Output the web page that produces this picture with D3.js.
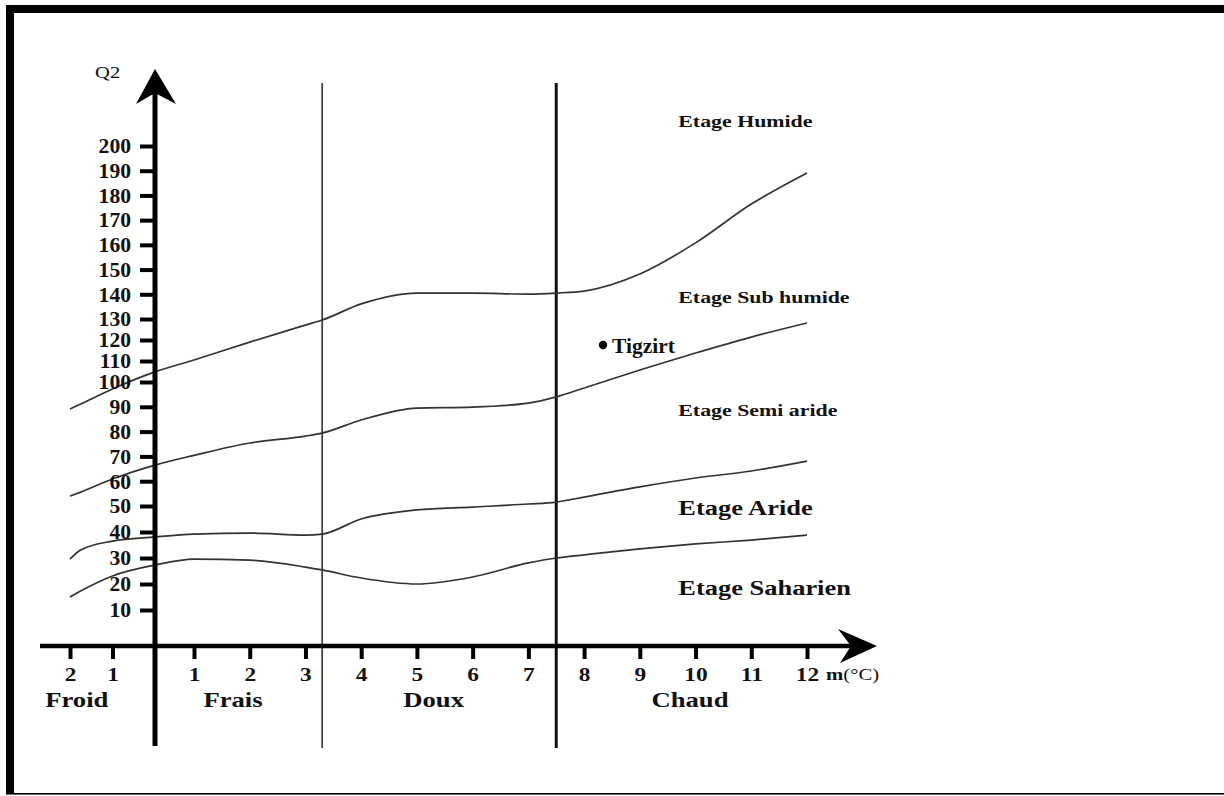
<!DOCTYPE html>
<html>
<head>
<meta charset="utf-8">
<script src="https://cdn.jsdelivr.net/npm/d3@7"></script>
<style>
  html, body { margin: 0; padding: 0; background: #fff; }
  svg { display: block; }
  text { font-family: "Liberation Serif", "Times New Roman", serif; fill: #111; }
</style>
</head>
<body>
<svg id="chart" width="1224" height="796"></svg>
<script>
// ---------------- DATA ----------------
const xTickValues = [-2, -1, 1, 2, 3, 4, 5, 6, 7, 8, 9, 10, 11, 12];
const xTickLabels = ["2", "1", "1", "2", "3", "4", "5", "6", "7", "8", "9", "10", "11", "12"];
const yTickValues = [10, 20, 30, 40, 50, 60, 70, 80, 90, 100, 110, 120, 130, 140, 150, 160, 170, 180, 190, 200];

// winter classes (m boundaries)
const zoneBounds = [3.3, 7.5];
const zoneNames = ["Froid", "Frais", "Doux", "Chaud"];
const zoneLabelM = [-1.84, 1.7, 5.3, 9.9];

// boundary curves of the bioclimatic stages (Q2 as a function of m)
const mPoints = [-2, -1.75, -1, 0, 1, 2, 3, 3.3, 4, 5, 6, 7, 7.5, 8, 9, 10, 11, 12];
const limHumide   = [89.1, 91.1, 97.2, 104.8, 110.5, 119, 127.1, 129.5, 136.1, 140.5, 140.5, 140.1, 140.5, 141.3, 148.2, 160.8, 176.5, 189.1];
const limSubHumide = [54, 55.6, 60.9, 66.5, 70.4, 75.4, 78.2, 79.4, 84.7, 89.5, 89.9, 91.5, 94, 97.6, 105.7, 113.8, 121.4, 128.1];
const limSemiAride = [29.6, 33.1, 36.5, 38.1, 39.2, 39.6, 38.8, 39.2, 45, 48.5, 49.6, 50.8, 51.6, 53.6, 57.7, 61.3, 64.1, 68.1];
const limAride     = [15, 17.3, 23.1, 27.3, 29.6, 29.2, 26.5, 25.4, 22.3, 20, 22.7, 28.1, 30, 31.2, 33.5, 35.4, 36.9, 38.8];

// stage labels
const stageNames = ["Etage Humide", "Etage Sub humide", "Etage Semi aride", "Etage Aride", "Etage Saharien"];
const stageQ2 = [207.7, 136.5, 86.3, 46.5, 15.8];
const stageM = 9.69;

// station
const station = { name: "Tigzirt", m: 8.34, q2: 117.6 };

// ---------------- CHART ----------------
const svg = d3.select("#chart");

// frame
svg.append("rect").attr("x", 6).attr("y", 5).attr("width", 1218).attr("height", 8).attr("fill", "#000");
svg.append("rect").attr("x", 6).attr("y", 5).attr("width", 8).attr("height", 789).attr("fill", "#000");
svg.append("rect").attr("x", 6).attr("y", 793).attr("width", 1218).attr("height", 1.6).attr("fill", "#000");

const x = d3.scaleLinear().domain([-2, 0, 1, 12]).range([70, 155, 194, 807]);
const y = d3.scaleLinear().domain([10, 50, 100, 130, 200]).range([610, 506, 382, 319, 146]);

const axisY0 = 646; // pixel of the m axis
const axisX0 = x(0);

// zone separators
svg.selectAll("line.zone").data(zoneBounds).enter().append("line")
  .attr("class", "zone")
  .attr("x1", d => x(d)).attr("x2", d => x(d))
  .attr("y1", 83).attr("y2", 748)
  .attr("stroke", (d, i) => i === 0 ? "#444" : "#111")
  .attr("stroke-width", (d, i) => i === 0 ? 1.8 : 3);

// curves
const line = d3.line().x(d => x(d[0])).y(d => y(d[1])).curve(d3.curveMonotoneX);
const curves = [limHumide, limSubHumide, limSemiAride, limAride];
svg.selectAll("path.lim").data(curves).enter().append("path")
  .attr("class", "lim")
  .attr("d", vals => line(mPoints.map((m, i) => [m, vals[i]])))
  .attr("fill", "none").attr("stroke", "#333").attr("stroke-width", 1.7);

// Y axis
const gy = svg.append("g").attr("transform", `translate(${axisX0},0)`)
  .call(d3.axisLeft(y).tickValues(yTickValues).tickSize(15).tickPadding(0).tickFormat(d3.format("d")));
gy.select(".domain").remove();
gy.selectAll(".tick line").attr("stroke", "#000").attr("stroke-width", 4);
gy.selectAll(".tick text")
  .attr("x", 0).attr("dy", "0.34em")
  .attr("transform", "translate(-24,0) scale(1.08,1)")
  .style("font-size", "20px").style("font-weight", "bold").style("font-family", '"Liberation Serif", serif');

svg.append("line").attr("x1", axisX0).attr("x2", axisX0).attr("y1", 90).attr("y2", 746)
  .attr("stroke", "#000").attr("stroke-width", 5);
svg.append("path")
  .attr("d", `M${axisX0},69 L${axisX0 + 21},104 L${axisX0},93 L${axisX0 - 19},104 Z`)
  .attr("fill", "#000");

// X axis
const gx = svg.append("g").attr("transform", `translate(0,${axisY0})`)
  .call(d3.axisBottom(x).tickValues(xTickValues).tickSize(13).tickPadding(8)
    .tickFormat((d, i) => xTickLabels[i]));
gx.select(".domain").remove();
gx.selectAll(".tick line").attr("stroke", "#000").attr("stroke-width", 4);
gx.selectAll(".tick text")
  .attr("transform", "scale(1.2,1)")
  .style("font-size", "19.5px").style("font-weight", "bold").style("font-family", '"Liberation Serif", serif');

svg.append("line").attr("x1", 40).attr("x2", 860).attr("y1", axisY0).attr("y2", axisY0)
  .attr("stroke", "#000").attr("stroke-width", 4.5);
svg.append("path")
  .attr("d", `M877,${axisY0} L838,${axisY0 - 17} L851,${axisY0} L840,${axisY0 + 17} Z`)
  .attr("fill", "#000");

// axis titles
svg.append("text").attr("transform", "translate(95,78) scale(1.25,1)")
  .style("font-size", "16.5px").text("Q2");
const mt = svg.append("text").attr("transform", `translate(826,680) scale(1.22,1)`).style("font-size", "17px");
mt.append("tspan").style("font-weight", "bold").text("m");
mt.append("tspan").text("(°C)");

// zone names
svg.selectAll("text.zone").data(zoneNames).enter().append("text")
  .attr("class", "zone")
  .attr("transform", (d, i) => `translate(${x(zoneLabelM[i])},707) scale(1.27,1)`)
  .attr("text-anchor", "middle")
  .style("font-size", "21px").style("font-weight", "bold")
  .text(d => d);

// stage labels
svg.selectAll("text.stage").data(stageNames).enter().append("text")
  .attr("class", "stage")
  .attr("transform", (d, i) => `translate(${x(stageM)},${y(stageQ2[i])}) scale(${i >= 3 ? 1.26 : 1.25},1)`)
  .style("font-size", (d, i) => i >= 3 ? "21px" : "17.5px")
  .style("font-weight", "bold")
  .text(d => d);

// station
svg.append("circle").attr("cx", x(station.m)).attr("cy", y(station.q2)).attr("r", 4.2).attr("fill", "#000");
svg.append("text")
  .attr("transform", `translate(${x(station.m) + 9},${y(station.q2) + 8}) scale(1.05,1)`)
  .style("font-size", "20.5px").style("font-weight", "bold")
  .text(station.name);
</script>
</body>
</html>
